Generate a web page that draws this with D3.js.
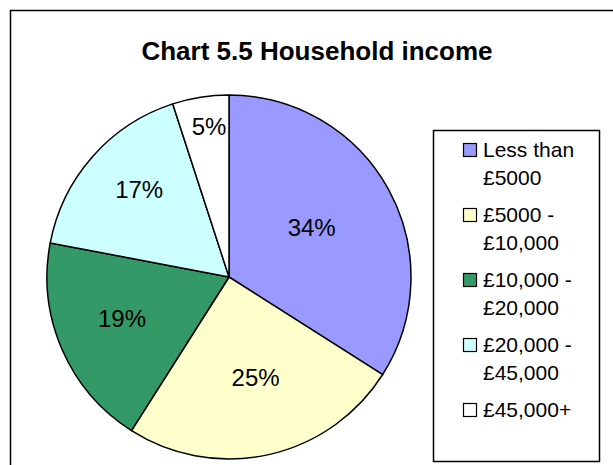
<!DOCTYPE html>
<html>
<head>
<meta charset="utf-8">
<script src="https://cdn.jsdelivr.net/npm/d3@7"></script>
<style>
  body { margin: 0; background: #fff; }
  svg { display: block; font-family: Arial, "Liberation Sans", sans-serif; }
</style>
</head>
<body>
<div id="chart"></div>
<script>
var title = 'Chart 5.5 Household income';
var categories = ['Less than £5000', '£5000 - £10,000', '£10,000 - £20,000', '£20,000 - £45,000', '£45,000+'];
var legendLines = [['Less than', '£5000'], ['£5000 -', '£10,000'], ['£10,000 -', '£20,000'], ['£20,000 -', '£45,000'], ['£45,000+']];
var values = [34, 25, 19, 17, 5];
var colors = ['#9999ff', '#ffffcc', '#339966', '#ccffff', '#ffffff'];

var width = 613, height = 465;
var cx = 229, cy = 277, radius = 182;

var svg = d3.select('#chart').append('svg')
    .attr('width', width)
    .attr('height', height);

// chart frame (runs off the right and bottom edges)
svg.append('rect')
    .attr('x', 10.5).attr('y', 10.5)
    .attr('width', 620).attr('height', 480)
    .attr('fill', '#fff')
    .attr('stroke', '#000')
    .attr('stroke-width', 1.5);

svg.append('text')
    .attr('x', 317).attr('y', 60)
    .attr('text-anchor', 'middle')
    .style('font-size', '26px')
    .style('font-weight', 'bold')
    .text(title);

var total = d3.sum(values);
var pie = d3.pie().sort(null).value(function(d) { return d; });
var arcs = pie(values);
var arc = d3.arc().innerRadius(0).outerRadius(radius);

var g = svg.append('g').attr('transform', 'translate(' + cx + ',' + cy + ')');

g.selectAll('path')
    .data(arcs)
    .enter().append('path')
    .attr('d', arc)
    .attr('fill', function(d, i) { return colors[i]; })
    .attr('stroke', '#000')
    .attr('stroke-width', 1.5)
    .attr('stroke-linejoin', 'round');

// small slices push their labels further out; text box centred, so glyphs sit a bit high
g.selectAll('text.lbl')
    .data(arcs)
    .enter().append('text')
    .attr('class', 'lbl')
    .attr('transform', function(d) {
        var share = d.value / total;
        var r = radius * (0.86 - 1.06 * share);
        var a = (d.startAngle + d.endAngle) / 2;
        return 'translate(' + (r * Math.sin(a) + 3) + ',' + (-r * Math.cos(a)) + ')';
    })
    .attr('text-anchor', 'middle')
    .attr('dy', '0.12em')
    .style('font-size', '24px')
    .text(function(d) { return d.value + '%'; });

// legend
var legend = svg.append('g');
legend.append('rect')
    .attr('x', 433.5).attr('y', 130.5)
    .attr('width', 166).attr('height', 331)
    .attr('fill', '#fff')
    .attr('stroke', '#000')
    .attr('stroke-width', 1.5);

var item = legend.selectAll('g.item')
    .data(categories)
    .enter().append('g')
    .attr('class', 'item')
    .attr('transform', function(d, i) { return 'translate(0,' + (157 + i * 65) + ')'; });

item.append('rect')
    .attr('x', 463.5).attr('y', -13.5)
    .attr('width', 13).attr('height', 13)
    .attr('fill', function(d, i) { return colors[i]; })
    .attr('stroke', '#000')
    .attr('stroke-width', 1.2);

item.append('text')
    .attr('x', 483)
    .style('font-size', '21px')
    .selectAll('tspan')
    .data(function(d, i) { return legendLines[i]; })
    .enter().append('tspan')
    .attr('x', 483)
    .attr('y', function(d, j) { return j * 28; })
    .text(function(d) { return d; });
</script>
</body>
</html>
